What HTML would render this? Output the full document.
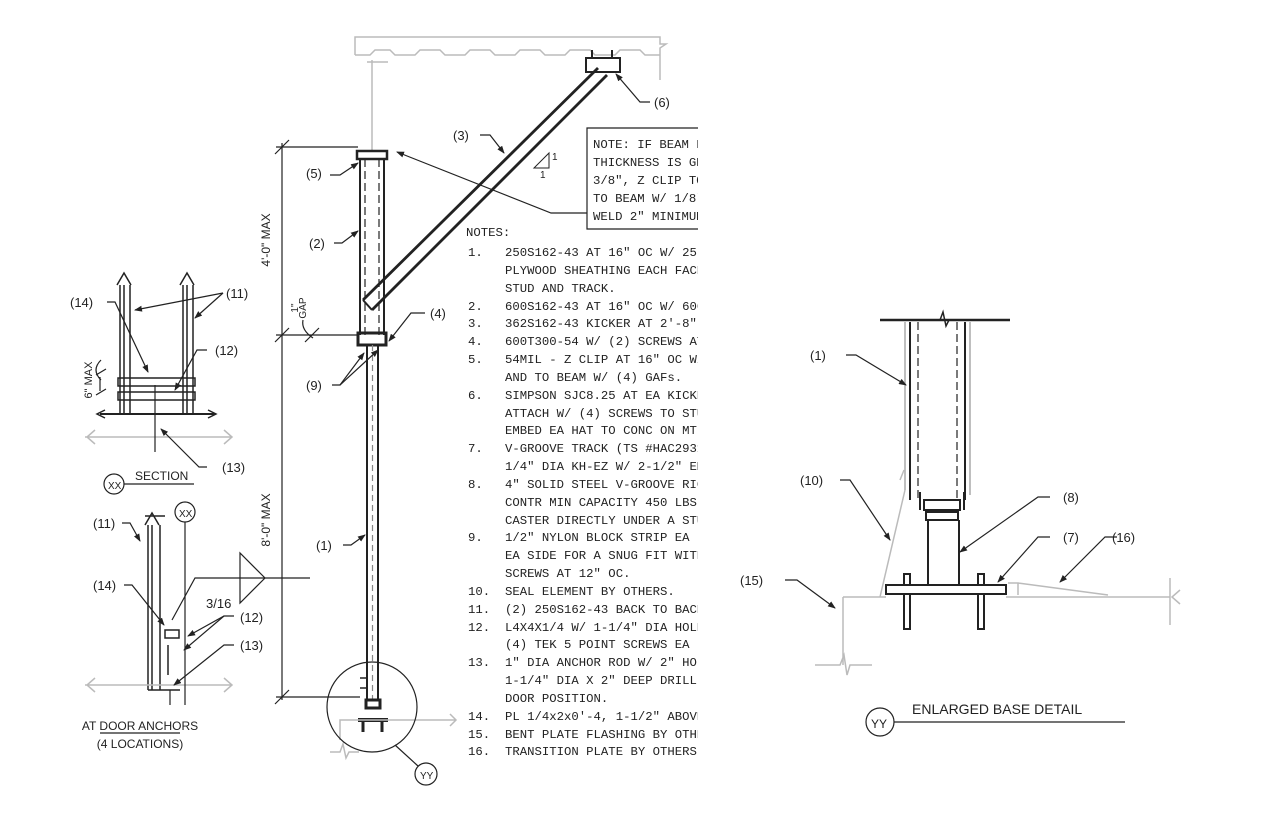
<!DOCTYPE html>
<html><head><meta charset="utf-8"><style>
html,body{margin:0;padding:0;background:#fff;}
svg{display:block;}
text{font-family:"Liberation Sans",sans-serif;fill:#222;}
.m text{font-family:"Liberation Mono",monospace;font-size:12.3px;fill:#222;}
.l{font-size:13px;}
</style></head><body>
<svg width="1281" height="821" viewBox="0 0 1281 821" xmlns="http://www.w3.org/2000/svg">
<defs>
<marker id="a" markerWidth="8" markerHeight="6" refX="7" refY="3" orient="auto" markerUnits="userSpaceOnUse"><path d="M0,0 L8,3 L0,6 Z" fill="#222"/></marker>
<clipPath id="c"><rect x="0" y="0" width="698" height="821"/></clipPath>
</defs>
<g fill="none" stroke="#222" stroke-width="1.2">
<!-- ceiling deck -->
<g stroke="#bbb" stroke-width="1.5">
<path d="M355,55 V37 H660 V44 L666,44 L660,48 V80"/>
<path d="M355,55 H370 L375,50 H390 L395,55 H415 L420,50 H440 L445,55 H465 L470,50 H490 L495,55 H515 L520,50 H540 L545,55 H565 L570,50 H590 L595,55 H615 L620,50 H640 L645,55 H660"/>
<line x1="372" y1="60" x2="372" y2="150"/>
<line x1="367" y1="62" x2="388" y2="62"/>
</g>
<!-- top bracket (6) -->
<rect x="586" y="58" width="34" height="14" stroke-width="2"/>
<line x1="592" y1="50" x2="592" y2="58" stroke-width="2"/><line x1="612" y1="50" x2="612" y2="58" stroke-width="2"/>
<!-- kicker -->
<line x1="363" y1="300" x2="598" y2="68" stroke-width="2.8"/>
<line x1="372" y1="310" x2="607" y2="75" stroke-width="2.8"/>
<line x1="363" y1="300" x2="372" y2="310" stroke-width="2"/>
<!-- upper column (2) -->
<rect x="357" y="151" width="30" height="8" stroke-width="2.5"/>
<line x1="360" y1="159" x2="360" y2="335" stroke-width="2"/><line x1="384" y1="159" x2="384" y2="335" stroke-width="2"/>
<line x1="365" y1="159" x2="365" y2="335" stroke-dasharray="8,4"/><line x1="379" y1="159" x2="379" y2="335" stroke-dasharray="8,4"/>
<rect x="358" y="333" width="28" height="12" stroke-width="3"/>
<!-- lower column (1) -->
<line x1="367" y1="345" x2="367" y2="700" stroke-width="2"/><line x1="378" y1="345" x2="378" y2="700" stroke-width="2"/>
<line x1="372.5" y1="345" x2="372.5" y2="700" stroke-dasharray="6,4" stroke="#888"/>
<path d="M366,700 h14 v8 h-14z" stroke-width="3"/>
<line x1="358" y1="720" x2="388" y2="720" stroke-width="4"/>
<line x1="363" y1="720" x2="363" y2="732" stroke-width="3"/><line x1="382" y1="720" x2="382" y2="732" stroke-width="3"/>
<path d="M360,678 h6 M360,688 h6" stroke-width="1.5"/>
<g stroke="#bbb" stroke-width="1.5"><path d="M340,740 V720 H455 M450,714 l6,6 l-6,6 M330,752 h10 l3,-8 l3,14 l3,-6 h10"/></g>
<circle cx="372" cy="707" r="45"/>
<line x1="395" y1="745" x2="418" y2="766"/>
<circle cx="426" cy="774" r="11"/>
<!-- dimension -->
<line x1="282" y1="143" x2="282" y2="700"/>
<line x1="276" y1="147" x2="358" y2="147"/><line x1="276" y1="335" x2="358" y2="335"/><line x1="276" y1="697" x2="360" y2="697"/>
<path d="M275,154 l14,-14 M275,342 l14,-14 M275,704 l14,-14 M305,342 l14,-14"/>
<path d="M303,320 q-2,10 10,18"/>
<!-- NOTE box -->
<path d="M698,128 H587 V229 H698"/>
<path d="M587,213 H551 L397,152" marker-end="url(#a)"/>
<path d="M534,168 h15 v-15 z" stroke-width="1"/>
<!-- leaders main -->
<path d="M480,135 h10 l14,18" marker-end="url(#a)"/>
<path d="M650,102 h-10 l-24,-28" marker-end="url(#a)"/>
<path d="M330,175 h10 l18,-12" marker-end="url(#a)"/>
<path d="M334,243 h8 l16,-12" marker-end="url(#a)"/>
<path d="M425,313 h-14 l-22,28" marker-end="url(#a)"/>
<path d="M332,385 h8 l24,-32" marker-end="url(#a)"/>
<path d="M340,385 l38,-35" marker-end="url(#a)"/>
<path d="M343,545 h8 l14,-10" marker-end="url(#a)"/>
<!-- SECTION XX -->
<g stroke-width="1.5">
<line x1="120" y1="285" x2="120" y2="415"/><line x1="124" y1="285" x2="124" y2="415"/><line x1="130" y1="285" x2="130" y2="415"/>
<line x1="183" y1="285" x2="183" y2="415"/><line x1="187" y1="285" x2="187" y2="415"/><line x1="193" y1="285" x2="193" y2="415"/>
<path d="M117,285 l7,-12 l7,12 M180,285 l7,-12 l7,12"/>
<rect x="118" y="378" width="77" height="8"/><rect x="118" y="392" width="77" height="8"/>
<line x1="100" y1="414" x2="215" y2="414" stroke-width="2"/>
<path d="M105,410 l-8,4 l8,4 M208,410 l8,4 l-8,4"/>
</g>
<g stroke="#bbb" stroke-width="1.5"><path d="M85,437 H232 M95,430 l-8,7 l8,7 M224,430 l8,7 l-8,7"/></g>
<line x1="155" y1="385" x2="155" y2="452"/>
<path d="M107,302 h8 l33,70" marker-end="url(#a)"/>
<path d="M223,293 L135,310" marker-end="url(#a)"/><path d="M223,293 L195,318" marker-end="url(#a)"/>
<path d="M207,350 h-10 l-22,40" marker-end="url(#a)"/>
<path d="M207,467 h-8 l-38,-38" marker-end="url(#a)"/>
<path d="M100,377 v14 M96,375 l10,-6 M96,395 l10,-6 M101,360 q-10,10 0,20"/>
<circle cx="114" cy="484" r="10"/><line x1="124" y1="484" x2="194" y2="484"/>
<!-- DOOR ANCHORS -->
<g stroke-width="1.5">
<line x1="148" y1="525" x2="148" y2="690"/><line x1="152" y1="525" x2="152" y2="690"/><line x1="160" y1="525" x2="160" y2="690"/>
<path d="M145,525 l7,-12 l7,12 M145,516 h20"/>
<path d="M148,690 h32 M165,630 h14 v8 h-14z M168,645 v30"/>
</g>
<g stroke="#bbb" stroke-width="1.5"><path d="M85,685 H232 M95,678 l-8,7 l8,7 M224,678 l8,7 l-8,7"/></g>
<line x1="170" y1="690" x2="170" y2="705"/>
<circle cx="185" cy="512" r="10"/><line x1="185" y1="522" x2="185" y2="705"/>
<path d="M240,553 L240,603 L265,578 Z"/>
<path d="M310,578 H195 L172,620"/>
<path d="M124,585 h8 l32,40" marker-end="url(#a)"/>
<path d="M122,523 h8 l10,18" marker-end="url(#a)"/>
<path d="M234,616 h-10 l-36,20" marker-end="url(#a)"/><path d="M224,616 l-40,34" marker-end="url(#a)"/>
<path d="M234,645 h-10 l-50,40" marker-end="url(#a)"/>
<line x1="100" y1="733" x2="180" y2="733"/>
<!-- ENLARGED BASE -->
<line x1="880" y1="320" x2="1010" y2="320" stroke-width="2.5"/>
<path d="M940,320 l3,-8 l3,14 l3,-6" stroke-width="1.5"/>
<g stroke="#aaa" stroke-width="1.5"><line x1="905" y1="322" x2="905" y2="490"/><line x1="970" y1="322" x2="970" y2="495"/></g>
<line x1="910" y1="322" x2="910" y2="500" stroke-width="2"/><line x1="965" y1="322" x2="965" y2="500" stroke-width="2"/>
<line x1="918" y1="322" x2="918" y2="500" stroke-dasharray="8,4"/><line x1="957" y1="322" x2="957" y2="500" stroke-dasharray="8,4"/>
<g stroke-width="2"><rect x="924" y="500" width="36" height="10"/><rect x="926" y="512" width="32" height="8"/>
<path d="M920,492 v18 M964,492 v18"/>
<line x1="928" y1="520" x2="928" y2="585"/><line x1="959" y1="520" x2="959" y2="585"/>
<rect x="886" y="585" width="120" height="9"/>
<rect x="904" y="574" width="6" height="11"/><rect x="978" y="574" width="6" height="11"/>
<path d="M904,594 v35 h6 v-35 M978,594 v35 h6 v-35"/></g>
<g stroke="#bbb" stroke-width="1.5">
<path d="M843,597 H886 M1006,597 H1170 M1180,590 l-8,7 l8,7 M1170,578 V625"/>
<path d="M843,597 V665 M815,665 h25 l4,-10 l3,20 l3,-10 h22"/>
<path d="M1008,583 h10 v12 M1018,583 L1108,595"/>
<path d="M900,480 l4,-10 M905,490 L880,597"/>
</g>
<path d="M846,355 h10 l50,30" marker-end="url(#a)"/>
<path d="M840,480 h10 l40,60" marker-end="url(#a)"/>
<path d="M1050,497 h-12 l-78,55" marker-end="url(#a)"/>
<path d="M1050,537 h-12 l-40,45" marker-end="url(#a)"/>
<path d="M1117,537 h-12 l-45,45" marker-end="url(#a)"/>
<path d="M785,580 h12 l38,28" marker-end="url(#a)"/>
<circle cx="880" cy="722" r="14"/><line x1="894" y1="722" x2="1125" y2="722"/>
</g>
<!-- texts -->
<g class="l">
<text x="453" y="140">(3)</text><text x="654" y="107">(6)</text>
<text x="306" y="178">(5)</text><text x="309" y="248">(2)</text>
<text x="430" y="318">(4)</text><text x="306" y="390">(9)</text>
<text x="316" y="550">(1)</text>
<text x="70" y="307">(14)</text><text x="226" y="298">(11)</text><text x="215" y="355">(12)</text><text x="222" y="472">(13)</text>
<text x="93" y="528">(11)</text><text x="93" y="590">(14)</text><text x="240" y="622">(12)</text><text x="240" y="650">(13)</text>
<text x="206" y="608">3/16</text>
<text x="810" y="360">(1)</text><text x="800" y="485">(10)</text><text x="1063" y="502">(8)</text>
<text x="1063" y="542">(7)</text><text x="1112" y="542">(16)</text><text x="740" y="585">(15)</text>
</g>
<text x="540" y="178" font-size="10">1</text><text x="552" y="160" font-size="10">1</text>
<text transform="translate(270,240) rotate(-90)" font-size="12" text-anchor="middle">4'-0" MAX</text>
<text transform="translate(270,520) rotate(-90)" font-size="12" text-anchor="middle">8'-0" MAX</text>
<text transform="translate(298,308) rotate(-90)" font-size="10" text-anchor="middle">1"</text>
<text transform="translate(306,308) rotate(-90)" font-size="10" text-anchor="middle">GAP</text>
<text transform="translate(92,380) rotate(-90)" font-size="11" text-anchor="middle">6" MAX</text>
<text x="108" y="489" font-size="10">XX</text><text x="179" y="517" font-size="10">XX</text>
<text x="420" y="779" font-size="10">YY</text><text x="871" y="728" font-size="12">YY</text>
<text x="135" y="480" font-size="12">SECTION</text>
<text x="140" y="730" font-size="12" text-anchor="middle">AT DOOR ANCHORS</text>
<text x="140" y="748" font-size="12" text-anchor="middle">(4 LOCATIONS)</text>
<text x="912" y="714" font-size="14">ENLARGED BASE DETAIL</text>
<g clip-path="url(#c)" class="m">
<text x="593" y="148">NOTE: IF BEAM FLANGE</text>
<text x="593" y="166">THICKNESS IS GREATER</text>
<text x="593" y="184">3/8", Z CLIP TO BE</text>
<text x="593" y="202">TO BEAM W/ 1/8" FILLET</text>
<text x="593" y="220">WELD 2" MINIMUM</text>
<text x="466" y="236">NOTES:</text>
<text x="468" y="256">1.</text><text x="505" y="256">250S162-43 AT 16" OC W/ 25</text>
<text x="505" y="274">PLYWOOD SHEATHING EACH FACE</text>
<text x="505" y="292">STUD AND TRACK.</text>
<text x="468" y="310">2.</text><text x="505" y="310">600S162-43 AT 16" OC W/ 600</text>
<text x="468" y="327">3.</text><text x="505" y="327">362S162-43 KICKER AT 2'-8"</text>
<text x="468" y="345">4.</text><text x="505" y="345">600T300-54 W/ (2) SCREWS AT</text>
<text x="468" y="363">5.</text><text x="505" y="363">54MIL - Z CLIP AT 16" OC W/</text>
<text x="505" y="381">AND TO BEAM W/ (4) GAFs.</text>
<text x="468" y="399">6.</text><text x="505" y="399">SIMPSON SJC8.25 AT EA KICKER</text>
<text x="505" y="417">ATTACH W/ (4) SCREWS TO STUD</text>
<text x="505" y="434">EMBED EA HAT TO CONC ON MTL</text>
<text x="468" y="452">7.</text><text x="505" y="452">V-GROOVE TRACK (TS #HAC2931</text>
<text x="505" y="470">1/4" DIA KH-EZ W/ 2-1/2" EMB</text>
<text x="468" y="488">8.</text><text x="505" y="488">4" SOLID STEEL V-GROOVE RIGID</text>
<text x="505" y="506">CONTR MIN CAPACITY 450 LBS.</text>
<text x="505" y="524">CASTER DIRECTLY UNDER A STUD</text>
<text x="468" y="541">9.</text><text x="505" y="541">1/2" NYLON BLOCK STRIP EA</text>
<text x="505" y="559">EA SIDE FOR A SNUG FIT WITH</text>
<text x="505" y="577">SCREWS AT 12" OC.</text>
<text x="468" y="595">10.</text><text x="505" y="595">SEAL ELEMENT BY OTHERS.</text>
<text x="468" y="613">11.</text><text x="505" y="613">(2) 250S162-43 BACK TO BACK</text>
<text x="468" y="631">12.</text><text x="505" y="631">L4X4X1/4 W/ 1-1/4" DIA HOLE</text>
<text x="505" y="648">(4) TEK 5 POINT SCREWS EA</text>
<text x="468" y="666">13.</text><text x="505" y="666">1" DIA ANCHOR ROD W/ 2" HOLE</text>
<text x="505" y="684">1-1/4" DIA X 2" DEEP DRILL</text>
<text x="505" y="702">DOOR POSITION.</text>
<text x="468" y="720">14.</text><text x="505" y="720">PL 1/4x2x0'-4, 1-1/2" ABOVE</text>
<text x="468" y="738">15.</text><text x="505" y="738">BENT PLATE FLASHING BY OTHERS</text>
<text x="468" y="755">16.</text><text x="505" y="755">TRANSITION PLATE BY OTHERS.</text>
</g>
</svg>
</body></html>
